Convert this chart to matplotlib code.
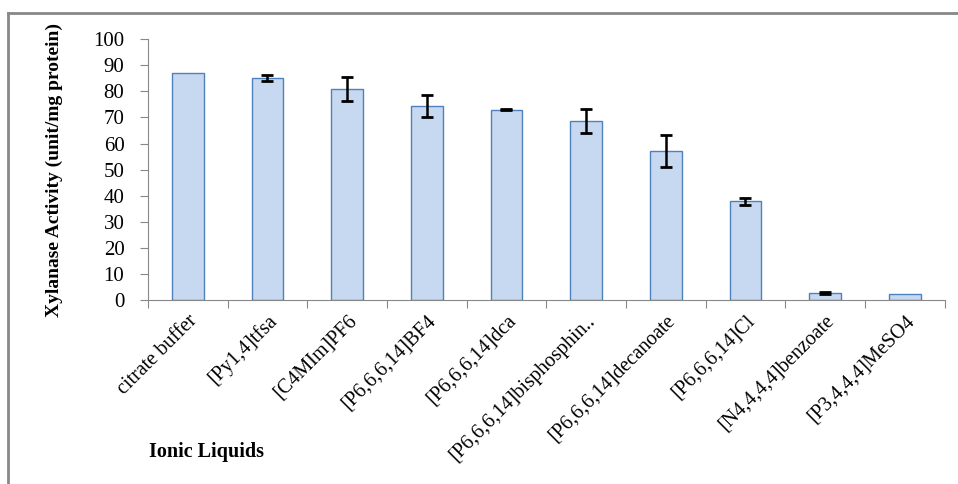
import matplotlib.pyplot as plt
from matplotlib.lines import Line2D

# data
liquids = ["citrate buffer", "[Py1,4]tfsa", "[C4MIm]PF6", "[P6,6,6,14]BF4",
           "[P6,6,6,14]dca", "[P6,6,6,14]bisphosphin..", "[P6,6,6,14]decanoate",
           "[P6,6,6,14]Cl", "[N4,4,4,4]benzoate", "[P3,4,4,4]MeSO4"]
activity = [87.2, 85.1, 81.1, 74.3, 73.0, 68.7, 57.1, 37.8, 2.7, 2.3]
errors = [0, 1.0, 4.6, 4.2, 0.3, 4.6, 6.2, 1.2, 0.5, 0]

plt.rcParams['font.family'] = ['Liberation Serif', 'DejaVu Serif']

fig = plt.figure(figsize=(9.58, 4.84), dpi=100)
ax = fig.add_axes([0.1545, 0.380, 0.8315, 0.539])

x = list(range(len(liquids)))
ax.bar(x, activity, width=0.4, color='#c6d9f1', edgecolor='#4f81bd', linewidth=1.0)

# only bars that have a measured spread get an error bar
err_idx = [i for i in x if errors[i] > 0]
ax.errorbar([x[i] for i in err_idx], [activity[i] for i in err_idx],
            yerr=[errors[i] for i in err_idx], fmt='none', ecolor='black',
            elinewidth=1.8, capsize=4, capthick=2)

ax.set_xlim(-0.5, len(liquids) - 0.5)
ax.set_ylim(0, 100)
ax.set_yticks(range(0, 101, 10))
ax.set_xticks([i - 0.5 for i in range(len(liquids) + 1)])
ax.set_xticklabels([])
ax.set_xticks(x, minor=True)
ax.set_xticklabels(liquids, minor=True, rotation=45, ha='right',
                   rotation_mode='anchor', fontsize=14.5)
ax.tick_params(axis='x', which='minor', length=0, pad=8)
ax.tick_params(axis='x', which='major', direction='out', length=6, color='#888888')
ax.tick_params(axis='y', direction='out', length=6, color='#888888', labelsize=15, pad=11)

for side in ['top', 'right']:
    ax.spines[side].set_visible(False)
for side in ['left', 'bottom']:
    ax.spines[side].set_color('#888888')

ax.set_ylabel("Xylanase Activity (unit/mg protein)", fontsize=14, fontweight='bold', labelpad=22)
fig.text(0.216, 0.056, "Ionic Liquids", fontsize=14.5, fontweight='bold', ha='center')

# outer chart frame
fig.add_artist(Line2D([0.0085, 1.0], [0.973, 0.973], transform=fig.transFigure,
                      color='#888888', linewidth=2))
fig.add_artist(Line2D([0.0085, 0.0085], [0.0, 0.973], transform=fig.transFigure,
                      color='#888888', linewidth=2))

fig.savefig("out.png", dpi=100)
